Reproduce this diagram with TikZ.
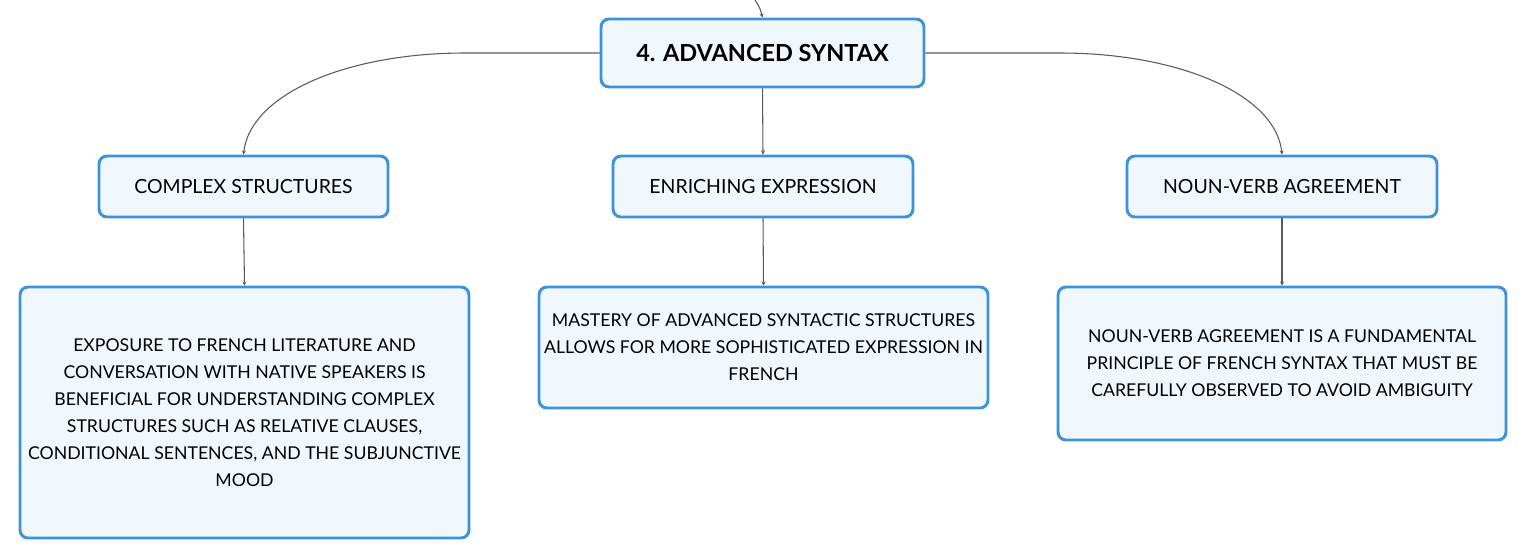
\documentclass[tikz,border=0pt]{standalone}
\usepackage{fontspec}
\setmainfont{Lato}
\usetikzlibrary{arrows.meta}
\definecolor{boxline}{HTML}{3D93DB}
\definecolor{boxfill}{HTML}{F0F7FD}
\definecolor{wire}{HTML}{5A5A5A}
\begin{document}
\begin{tikzpicture}[x=0.75pt, y=-0.75pt,
    box/.style={draw=boxline, fill=boxfill, line width=2.2pt, rounded corners=6pt, align=center, inner sep=0pt},
    link/.style={draw=wire, line width=0.8pt, -{Stealth[length=3pt,width=3pt]}}]
    \useasboundingbox (0,0) rectangle (1527,558);
    \node[box, minimum width=323*0.75pt, minimum height=68*0.75pt, font=\bfseries\fontsize{17.6}{20}\selectfont] (top) at (762.5,53) {4. ADVANCED SYNTAX};
    \node[box, minimum width=289*0.75pt, minimum height=61*0.75pt, font=\fontsize{14.6}{20}\selectfont] (cplx) at (243.5,186.5) {COMPLEX STRUCTURES};
    \node[box, minimum width=300*0.75pt, minimum height=61*0.75pt, font=\fontsize{14.6}{20}\selectfont] (enri) at (763,186.5) {ENRICHING EXPRESSION};
    \node[box, minimum width=310*0.75pt, minimum height=61*0.75pt, font=\fontsize{14.6}{20}\selectfont] (noun) at (1282,186.5) {NOUN-VERB AGREEMENT};

    \node[box, minimum width=449*0.75pt, minimum height=251*0.75pt, font=\fontsize{13.25}{20.25}\selectfont] (cplxleaf) at (244.5,412.5)
      {EXPOSURE TO FRENCH LITERATURE AND\\ CONVERSATION WITH NATIVE SPEAKERS IS\\ BENEFICIAL FOR UNDERSTANDING COMPLEX\\ STRUCTURES SUCH AS RELATIVE CLAUSES,\\ CONDITIONAL SENTENCES, AND THE SUBJUNCTIVE\\ MOOD};
    \node[box, minimum width=449*0.75pt, minimum height=121*0.75pt, font=\fontsize{13.25}{20.25}\selectfont] (enrileaf) at (763.5,347.5)
      {MASTERY OF ADVANCED SYNTACTIC STRUCTURES\\ ALLOWS FOR MORE SOPHISTICATED EXPRESSION IN\\ FRENCH};
    \node[box, minimum width=448*0.75pt, minimum height=153*0.75pt, font=\fontsize{13.25}{20.25}\selectfont] (nounleaf) at (1282,363.5)
      {NOUN-VERB AGREEMENT IS A FUNDAMENTAL\\ PRINCIPLE OF FRENCH SYNTAX THAT MUST BE\\ CAREFULLY OBSERVED TO AVOID AMBIGUITY};

    \coordinate (parent) at (755,0);
    \draw[link] (parent) .. controls (760,8) .. (top.north);
    \draw[link] (top.west) -- (465,53) .. controls (345,53) and (250,95) .. (cplx.north);
    \draw[link] (top.east) -- (1060,53) .. controls (1180,53) and (1276,95) .. (noun.north);
    \draw[link] (top.south) -- (enri.north);
    \draw[link] (cplx.south) -- (cplxleaf.north);
    \draw[link] (enri.south) -- (enrileaf.north);
    \draw[link] (noun.south) -- (nounleaf.north);
  \end{tikzpicture}
\end{document}
